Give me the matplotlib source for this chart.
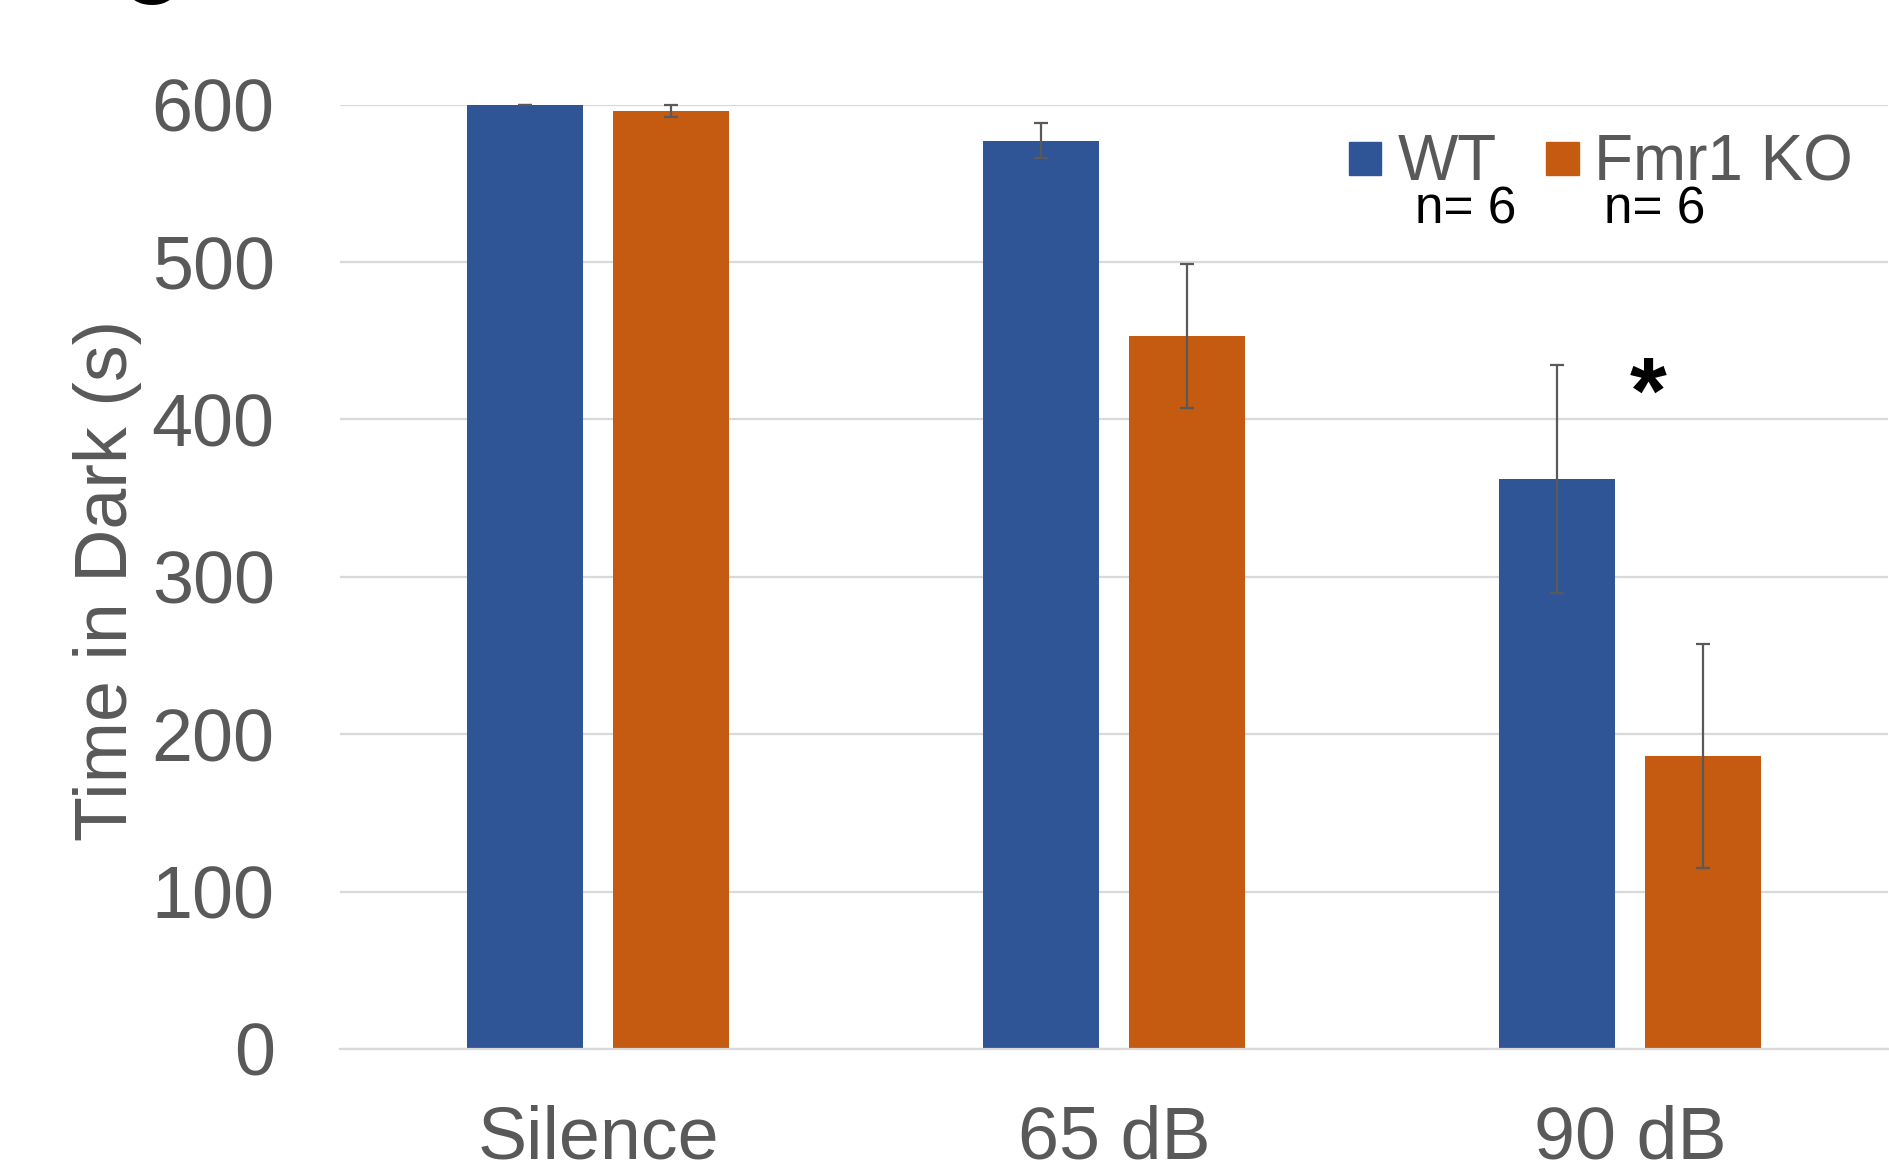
import matplotlib
matplotlib.use("Agg")
import matplotlib.pyplot as plt
from matplotlib.patches import Rectangle
import numpy as np

# Time spent in the dark compartment per sound condition (mean ± SEM)
categories = ["Silence", "65 dB", "90 dB"]
wt_mean = [600, 577, 362]
wt_sem = [0, 11, 72.5]
ko_mean = [596, 453, 186]
ko_sem = [4, 45.5, 71]
y_ticks = [0, 100, 200, 300, 400, 500, 600]
series_names = ["WT", "Fmr1 KO"]
group_sizes = ["n= 6", "n= 6"]

BLUE = "#2F5597"
ORANGE = "#C55A11"
GREY_TEXT = "#595959"
GRID = "#D9D9D9"

plt.rcParams["font.family"] = ["Liberation Sans", "DejaVu Sans"]

W, H = 1889, 1168
fig = plt.figure(figsize=(W / 100, H / 100), dpi=100)


def fx(px):
    return px / W


def fy(py):
    return 1 - py / H


ax = fig.add_axes([fx(340), fy(1049), fx(1888) - fx(340), fy(104.5) - fy(1049)])

x = np.arange(len(categories))
offset = 0.1415
width = 0.223

ax.bar(x - offset, wt_mean, width, color=BLUE, zorder=2)
ax.bar(x + offset, ko_mean, width, color=ORANGE, zorder=2)

err_kw = dict(fmt="none", ecolor=GREY_TEXT, elinewidth=1.6, capsize=4.8,
              capthick=1.6, zorder=3, clip_on=False)
ax.errorbar(x - offset, wt_mean, yerr=wt_sem, **err_kw)
ax.errorbar(x + offset, ko_mean, yerr=ko_sem, **err_kw)

ax.set_xlim(-0.5, 2.5)
ax.set_ylim(0, 600)
ax.set_yticks(y_ticks)
ax.set_xticks(x)
ax.set_xticklabels(categories)

ax.yaxis.grid(True, color=GRID, linewidth=1.6)
ax.set_axisbelow(True)
for side in ("top", "right", "left"):
    ax.spines[side].set_visible(False)
ax.spines["bottom"].set_color(GRID)
ax.spines["bottom"].set_linewidth(1.6)

ax.tick_params(axis="both", length=0, labelsize=53, labelcolor=GREY_TEXT)
ax.tick_params(axis="y", pad=47)
ax.tick_params(axis="x", pad=40)

fig.text(fx(108), fy(580), "Time in Dark (s)", rotation=90, ha="center",
         va="center", fontsize=53, color=GREY_TEXT)

# significance marker for the 90 dB comparison
ax.text(2.036, 398, "*", ha="center", va="baseline", fontsize=68,
        fontweight="bold", color="black")

# legend with group sizes
for (x0, x1), name, col, tx in [((1349, 1381), series_names[0], BLUE, 1398),
                                ((1546, 1579), series_names[1], ORANGE, 1594)]:
    fig.add_artist(Rectangle((fx(x0), fy(175)), fx(x1) - fx(x0), fy(142) - fy(175),
                             transform=fig.transFigure, color=col))
    fig.text(fx(tx), fy(180), name, ha="left", va="baseline", fontsize=46,
             color=GREY_TEXT)
fig.text(fx(1415), fy(223), group_sizes[0], ha="left", va="baseline",
         fontsize=37, color="black")
fig.text(fx(1604), fy(223), group_sizes[1], ha="left", va="baseline",
         fontsize=37, color="black")

# panel letter
fig.text(fx(150), fy(4), "C", ha="center", va="baseline", fontsize=60,
         fontweight="bold", color="black")

fig.savefig("out.png", dpi=100)
